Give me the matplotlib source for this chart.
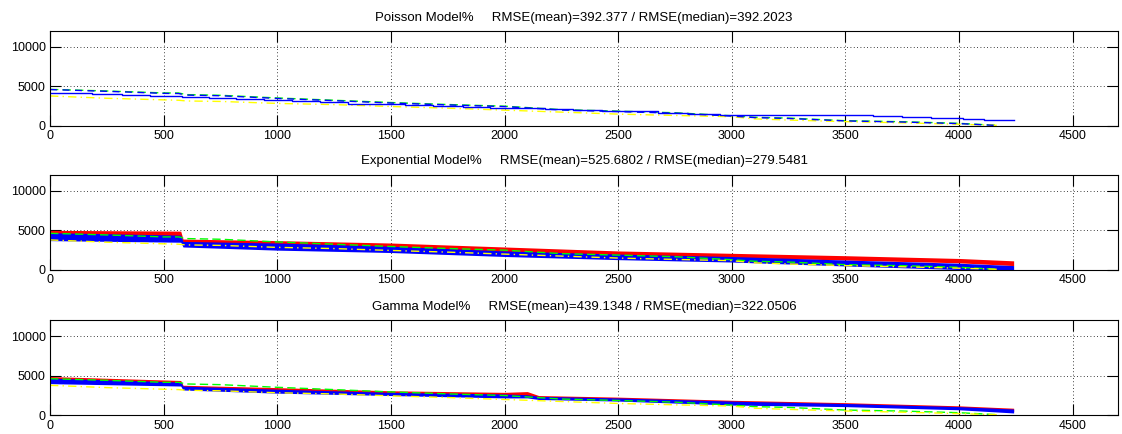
import matplotlib
matplotlib.use("Agg")
import matplotlib.pyplot as plt

plt.rcParams['font.family'] = ['Liberation Sans', 'DejaVu Sans']
plt.rcParams['font.size'] = 9

# reference curves shared by all three panels
ref_x = [0, 250, 500, 565, 600, 750, 1000, 1250, 1500, 1750, 2000, 2250, 2500, 2750, 3000, 3100, 3250, 3500, 3750, 4000, 4170]
ref_green = [4625, 4420, 4170, 4170, 3960, 3875, 3540, 3250, 2960, 2710, 2500, 2060, 1875, 1670, 1290, 1100, 1000, 667, 540, 333, 80]
ref_yellow = [3790, 3500, 3300, 3250, 3160, 3100, 2850, 2700, 2460, 2250, 2000, 1750, 1500, 1330, 1170, 900, 750, 550, 400, 220, 80]

# Poisson model: stepped mean estimate and median estimate
poisson_step_x = [0, 185, 315, 440, 580, 700, 820, 940, 1065, 1189, 1312, 1440, 1563, 1687, 1819,
                  1937, 2061, 2180, 2303, 2430, 2554, 2677, 2805, 2950, 3620, 3750, 3875, 4015, 4110, 4240]
poisson_step_y = [4200, 4000, 3870, 3750, 3600, 3480, 3380, 3300, 3170, 3000, 2830, 2750, 2625, 2540, 2420,
                  2290, 2210, 2150, 2000, 1920, 1830, 1670, 1500, 1440, 1290, 1170, 1000, 875, 750, 750]
poisson_median = [4600, 4380, 4120, 4100, 3900, 3820, 3480, 3200, 2900, 2660, 2450, 2020, 1820, 1620, 1250, 1060, 950, 640, 500, 300, 60]

# Exponential model: spread of mean (red) and median (blue) estimates
band_x = [0, 575, 585, 1000, 1500, 2000, 2500, 3000, 3500, 4000, 4240]
expo_red_lo = [4400, 4200, 3500, 3100, 2900, 2300, 1900, 1600, 1250, 900, 550]
expo_red_hi = [5000, 4900, 3900, 3700, 3400, 2900, 2400, 2100, 1800, 1450, 1150]
expo_blue_lo = [3700, 3500, 2900, 2500, 2200, 1700, 1300, 1000, 500, 50, 0]
expo_blue_hi = [4700, 4400, 3600, 3400, 3000, 2400, 2000, 1700, 1250, 850, 550]

# Gamma model
gamma_x = [0, 575, 585, 1000, 1500, 2000, 2100, 2150, 2500, 3000, 3500, 4000, 4240]
gamma_red_lo = [4300, 3900, 3400, 3000, 2600, 2400, 2500, 2100, 1900, 1500, 1200, 800, 500]
gamma_red_hi = [4900, 4400, 3800, 3500, 3100, 2900, 3000, 2500, 2300, 1900, 1600, 1200, 900]
gamma_blue_lo = [4000, 3700, 3200, 2800, 2500, 2200, 2200, 2000, 1800, 1300, 1100, 700, 300]
gamma_blue_hi = [4700, 4200, 3700, 3300, 2900, 2700, 2600, 2400, 2200, 1800, 1500, 1100, 800]

titles = [
    "Poisson Model%     RMSE(mean)=392.377 / RMSE(median)=392.2023",
    "Exponential Model%     RMSE(mean)=525.6802 / RMSE(median)=279.5481",
    "Gamma Model%     RMSE(mean)=439.1348 / RMSE(median)=322.0506",
]

fig = plt.figure(figsize=(11.22, 4.34), dpi=100)
fig.patch.set_facecolor("white")
left, width, height = 0.0446, 0.952, 0.219
bottoms = [0.7097, 0.378, 0.0430]
axes = [fig.add_axes([left, b, width, height]) for b in bottoms]


def draw_reference(ax):
    ax.plot(ref_x, ref_green, color=(0, 1, 0), linestyle=(0, (6, 3)), linewidth=1.0)
    ax.plot(ref_x, ref_yellow, color=(1, 1, 0), linestyle=(0, (6, 3, 1, 3)), linewidth=1.0)


# Poisson
ax = axes[0]
draw_reference(ax)
ax.plot(ref_x, poisson_median, color=(0, 0, 1), linestyle=(0, (5, 4)), linewidth=1.0)
ax.step(poisson_step_x, poisson_step_y, where="post", color=(0, 0, 1), linewidth=1.0)

# Exponential
ax = axes[1]
ax.fill_between(band_x, expo_red_lo, expo_red_hi, color=(1, 0, 0), linewidth=0)
ax.fill_between(band_x, expo_blue_lo, expo_blue_hi, color=(0, 0, 1), linewidth=0)
draw_reference(ax)

# Gamma
ax = axes[2]
ax.fill_between(gamma_x, gamma_red_lo, gamma_red_hi, color=(1, 0, 0), linewidth=0)
ax.fill_between(gamma_x, gamma_blue_lo, gamma_blue_hi, color=(0, 0, 1), linewidth=0)
draw_reference(ax)

for ax, title in zip(axes, titles):
    ax.set_xlim(0, 4700)
    ax.set_ylim(0, 12000)
    ax.set_xticks(range(0, 5000, 500))
    ax.set_yticks([0, 5000, 10000])
    ax.tick_params(direction="in", top=True, right=True, length=8, width=0.8,
                   labelsize=9, pad=3, colors="black")
    ax.grid(True, color="black", linestyle=(0, (1, 3)), linewidth=0.6)
    ax.set_axisbelow(True)
    for s in ax.spines.values():
        s.set_linewidth(0.8)
        s.set_color("black")
    ax.set_title(title, fontsize=9.5, x=0.5, pad=7.5)

fig.savefig("out.png", dpi=100, facecolor="white")
